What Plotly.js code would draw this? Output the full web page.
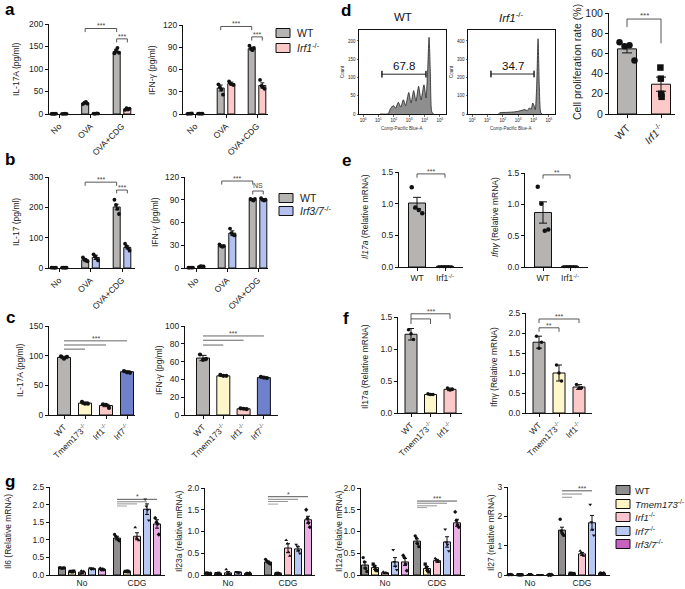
<!DOCTYPE html>
<html><head><meta charset="utf-8">
<script src="https://cdn.plot.ly/plotly-3.0.1.min.js"></script>
<style>html,body{margin:0;padding:0;background:#fff}#chart{width:685px;height:589px}</style>
</head><body><div id="chart"></div>
<script>
// ================= DATA =================
// Panel a / b : groups
const stimGroups = ['No', 'OVA', 'OVA+CDG'];
// a left: IL-17A
const a17_WT = [0.5, 24, 139];
const a17_WT_sem = [0.3, 1.5, 3];
const a17_WT_pts = [[0.3, 0.6, 0.2, 0.8], [22, 25, 27, 23], [135, 142, 147, 136]];
const a17_Irf1 = [0.5, 1, 11];
const a17_Irf1_sem = [0.3, 0.3, 1.5];
const a17_Irf1_pts = [[0.5, 0.3, 0.8, 0.4], [1, 0.5, 1.5, 1], [9, 13, 10, 12]];
// a right: IFN-g
const aIfn_WT = [0.5, 35, 88];
const aIfn_WT_sem = [0.3, 4, 2];
const aIfn_WT_pts = [[0.3, 0.6, 0.4, 0.7], [40, 36, 33, 26], [92, 88, 86, 89]];
const aIfn_Irf1 = [0.5, 41, 38.5];
const aIfn_Irf1_sem = [0.3, 2, 3.5];
const aIfn_Irf1_pts = [[0.4, 0.6, 0.5, 0.5], [44, 41, 40, 39], [46, 38, 36, 34]];
// b left: IL-17
const b17_WT = [1, 27, 201];
const b17_WT_sem = [0.5, 4, 9];
const b17_WT_pts = [[1, 1.5, 0.5, 1], [35, 28, 24, 22], [225, 208, 195, 178]];
const b17_Irf37 = [1, 35, 68];
const b17_Irf37_sem = [0.5, 7, 5];
const b17_Irf37_pts = [[1, 1.2, 0.8, 1], [45, 38, 32, 25], [80, 72, 65, 57]];
// b right: IFN-g
const bIfn_WT = [0.5, 29, 90];
const bIfn_WT_sem = [0.3, 1, 0.5];
const bIfn_WT_pts = [[0.4, 0.6, 0.5, 0.5], [31, 29, 28, 29], [91, 90, 89, 91]];
const bIfn_Irf37 = [2, 46, 90];
const bIfn_Irf37_sem = [0.5, 3, 1];
const bIfn_Irf37_pts = [[1.5, 2.5, 2, 2], [52, 46, 44, 43], [92, 90, 89, 90]];

// Panel c
const cGenotypes = ['WT', 'Tmem173<sup>-/-</sup>', 'Irf1<sup>-/-</sup>', 'Irf7<sup>-/-</sup>'];
const c17 = [97, 20, 16, 73];
const c17_sem = [2, 2, 2, 1.5];
const c17_pts = [[99, 95, 98], [22, 19, 19], [18, 17, 12], [74, 72, 71]];
const cIfn = [64, 44, 7, 42];
const cIfn_sem = [3, 0.5, 0.5, 0.5];
const cIfn_pts = [[68, 62, 63], [45, 44, 44], [7.5, 7, 6.5], [43, 42, 41.5]];

// Panel d: flow histograms (x in log10 units of Comp-Pacific Blue-A)
const hWT_log = [1.10, 1.64, 1.75, 1.86, 1.97, 2.12, 2.29, 2.45, 2.62, 2.77, 2.97, 3.12, 3.29, 3.44, 3.61, 3.77, 3.96, 4.09, 4.20, 4.29, 4.37, 4.46, 4.57];
const hWT_count = [0, 1, 12, 19, 23, 16, 32, 19, 39, 23, 59, 30, 64, 35, 76, 39, 80, 44, 121, 210, 121, 7, 0];
const hIrf1_log = [1.71, 1.82, 2.25, 2.68, 3.01, 3.23, 3.44, 3.59, 3.72, 3.85, 3.94, 4.03, 4.11, 4.20, 4.29, 4.37, 4.46, 4.55];
const hIrf1_count = [0, 7, 9, 11, 15, 20, 24, 18, 33, 27, 60, 46, 24, 152, 412, 152, 9, 0];
const gateWT = [1.23, 4.09];
const gateIrf1 = [1.23, 4.03];
const gateLabels = ['67.8', '34.7'];
// d right: proliferation
const dGenotypes = ['WT', '<i>Irf1</i><sup>-/-</sup>'];
const dProl = [64.5, 29.5];
const dProl_sem = [4, 7];
const dProl_pts = [[71, 67, 68, 53], [46, 35, 20, 17]];

// Panel e
const eGenotypes = ['WT', 'Irf1<sup>-/-</sup>'];
const e17 = [1.01, 0.01];
const e17_sem = [0.09, 0.003];
const e17_pts = [[1.26, 0.94, 0.90, 0.85], [0.01, 0.01, 0.01, 0.01]];
const eIfn = [0.87, 0.01];
const eIfn_sem = [0.17, 0.003];
const eIfn_pts = [[1.28, 1.01, 0.58, 0.60], [0.01, 0.01, 0.01, 0.01]];

// Panel f
const fGenotypes = ['WT', 'Tmem173<sup>-/-</sup>', 'Irf1<sup>-/-</sup>'];
const f17 = [1.23, 0.29, 0.37];
const f17_sem = [0.09, 0.01, 0.02];
const f17_pts = [[1.30, 1.24, 1.15], [0.30, 0.29, 0.29], [0.39, 0.36, 0.37]];
const fIfn = [1.77, 1.00, 0.65];
const fIfn_sem = [0.15, 0.2, 0.06];
const fIfn_pts = [[1.92, 1.62, 1.77], [1.20, 1.00, 0.80], [0.71, 0.62, 0.63]];

// Panel g (per genotype: [No, CDG])
const gGroups = ['No', 'CDG'];
const gGenotypes = ['WT', '<i>Tmem173</i><sup>-/-</sup>', '<i>Irf1</i><sup>-/-</sup>', '<i>Irf7</i><sup>-/-</sup>', '<i>Irf3/7</i><sup>-/-</sup>'];
const gIl6 = [[0.2, 1.05], [0.1, 0.1], [0.08, 1.1], [0.18, 1.87], [0.16, 1.45]];
const gIl6_sem = [[0.01, 0.05], [0.01, 0.01], [0.03, 0.1], [0.02, 0.15], [0.02, 0.12]];
const gIl6_pts = [
  [[0.21, 0.2, 0.19, 0.2, 0.2], [1.15, 1.1, 1.05, 1.0, 0.97]],
  [[0.1, 0.1, 0.09, 0.11], [0.1, 0.1, 0.11, 0.09]],
  [[0.03, 0.12, 0.05, 0.1], [1.35, 1.05, 1.02, 0.98]],
  [[0.2, 0.16, 0.18, 0.17], [2.15, 1.95, 1.85, 1.55]],
  [[0.18, 0.15, 0.16, 0.15], [1.62, 1.5, 1.45, 1.15]]];
const gIl23 = [[0.04, 0.30], [0.03, 0.03], [0.05, 0.62], [0.06, 0.60], [0.03, 1.27]];
const gIl23_sem = [[0.005, 0.02], [0.005, 0.005], [0.03, 0.1], [0.01, 0.05], [0.005, 0.08]];
const gIl23_pts = [
  [[0.04, 0.05, 0.04, 0.03, 0.04], [0.36, 0.32, 0.3, 0.27, 0.25]],
  [[0.03, 0.03, 0.04, 0.02], [0.03, 0.04, 0.03, 0.02]],
  [[0.13, 0.03, 0.02, 0.02], [0.8, 0.72, 0.52, 0.44]],
  [[0.07, 0.06, 0.05, 0.06], [0.7, 0.66, 0.56, 0.5]],
  [[0.03, 0.03, 0.02, 0.04], [1.5, 1.3, 1.2, 1.1]]];
const gIl12 = [[0.23, 0.78], [0.17, 0.15], [0.05, 0.33], [0.30, 0.76], [0.30, 1.20]];
const gIl12_sem = [[0.07, 0.05], [0.04, 0.04], [0.01, 0.03], [0.1, 0.12], [0.08, 0.08]];
const gIl12_pts = [
  [[0.4, 0.3, 0.15, 0.08], [0.9, 0.85, 0.72, 0.65]],
  [[0.25, 0.2, 0.12, 0.1], [0.25, 0.18, 0.1, 0.07]],
  [[0.07, 0.04, 0.05, 0.04], [0.38, 0.35, 0.3, 0.3]],
  [[0.58, 0.3, 0.2, 0.12], [1.05, 0.75, 0.7, 0.55]],
  [[0.45, 0.4, 0.25, 0.1], [1.45, 1.25, 1.15, 1.1]]];
const gIl27 = [[0.01, 1.53], [0.01, 0.05], [0.0, 0.72], [0.01, 1.78], [0.0, 0.05]];
const gIl27_sem = [[0.005, 0.1], [0.005, 0.01], [0.05, 0.05], [0.005, 0.25], [0.005, 0.01]];
const gIl27_pts = [
  [[0.01, 0.01, 0.02, 0.01], [1.9, 1.5, 1.4, 1.35]],
  [[0.01, 0.01, 0.01, 0.01], [0.06, 0.05, 0.04, 0.05]],
  [[0.0, 0.01, 0.0, 0.01], [0.82, 0.75, 0.68, 0.65]],
  [[0.01, 0.01, 0.01, 0.01], [2.4, 1.8, 1.55, 1.35]],
  [[0.0, 0.01, 0.0, 0.01], [0.06, 0.05, 0.04, 0.06]]];

// ================= STYLE / LAYOUT =================
const W = 685, H = 589;
const FONT = 'Liberation Sans, Arial, sans-serif';
const C_WT = '#b6b3b3', C_IRF1 = '#fcc9c9', C_IRF37 = '#b4c1ee';
const C_TMEM = '#fff7cc', C_IRF7 = '#6f80cc';
const G_COLORS = ['#8f8d8d', '#fff5c4', '#fcc4cf', '#b9c7f3', '#eab0e6'];
const G_LEGEND = ['#8f8d8d', '#fff5c4', '#fcc4cf', '#b9c7f3', '#c862c0'];
const G_SYMBOLS = ['circle', 'square', 'triangle-up', 'triangle-down', 'diamond'];

const traces = [], shapes = [], annotations = [];
const layout = {
  width: W, height: H, margin: {l: 0, r: 0, t: 0, b: 0},
  paper_bgcolor: '#fff', plot_bgcolor: 'rgba(0,0,0,0)',
  showlegend: false, barmode: 'overlay', font: {family: FONT, color: '#222'}
};
const panels = {};
const K = n => (n === 1 ? '' : String(n));

function addAxes(n, g) {
  const k = K(n);
  const base = {showline: true, linecolor: '#111', linewidth: 1, ticks: 'outside', ticklen: 3, tickwidth: 1,
    tickcolor: '#111', showgrid: false, zeroline: false, fixedrange: true,
    tickfont: {family: FONT, size: g.fs || 8.5, color: '#222'}};
  layout['xaxis' + k] = Object.assign({}, base, {domain: [g.box[0] / W, g.box[1] / W], range: g.xr, anchor: 'y' + k,
    tickmode: 'array', tickvals: g.xv, ticktext: g.xt, tickangle: g.xa || 0}, g.xextra || {});
  layout['yaxis' + k] = Object.assign({}, base, {domain: [1 - g.box[3] / H, 1 - g.box[2] / H], range: g.yr, anchor: 'x' + k,
    tick0: 0, dtick: g.dy, tickformat: g.fmt || ''}, g.yextra || {});
  panels[n] = g;
}
function toPaper(n, x, y) {
  const g = panels[n];
  const px = g.box[0] + (x - g.xr[0]) / (g.xr[1] - g.xr[0]) * (g.box[1] - g.box[0]);
  const py = g.box[3] - (y - g.yr[0]) / (g.yr[1] - g.yr[0]) * (g.box[3] - g.box[2]);
  return [px / W, 1 - py / H];
}
function geo(box, c0, unit) { return [(box[0] - c0) / unit, (box[1] - c0) / unit]; }

function groupedPanel(n, g, series, cfg) {
  g.xr = geo(g.box, cfg.c0, cfg.unit);
  addAxes(n, g);
  const k = K(n), S = series.length;
  series.forEach((s, si) => {
    const off = (si - (S - 1) / 2) * cfg.step / cfg.unit;
    traces.push({type: 'bar', x: s.mean.map((_, i) => i + off), y: s.mean, width: cfg.bw / cfg.unit,
      xaxis: 'x' + k, yaxis: 'y' + k, marker: {color: s.color, line: {color: '#111', width: 1}},
      error_y: {type: 'data', array: s.sem, visible: true, color: '#111', thickness: 1, width: cfg.cap},
      hoverinfo: 'skip'});
    const px = [], py = [];
    s.pts.forEach((arr, i) => arr.forEach((v, j) => { px.push(i + off + (j - (arr.length - 1) / 2) * cfg.jit / cfg.unit); py.push(v); }));
    traces.push({type: 'scatter', mode: 'markers', x: px, y: py, xaxis: 'x' + k, yaxis: 'y' + k, cliponaxis: false,
      marker: {color: '#111', size: cfg.ms, symbol: s.symbol || 'circle', line: {width: 0}}, hoverinfo: 'skip'});
  });
}
function singlePanel(n, g, colors, mean, sem, pts, cfg) {
  g.xr = geo(g.box, cfg.c0, cfg.unit);
  addAxes(n, g);
  const k = K(n);
  traces.push({type: 'bar', x: mean.map((_, i) => i), y: mean, width: cfg.bw / cfg.unit,
    xaxis: 'x' + k, yaxis: 'y' + k, marker: {color: colors, line: {color: '#111', width: 1}},
    error_y: {type: 'data', array: sem, visible: true, color: '#111', thickness: 1, width: cfg.cap}, hoverinfo: 'skip'});
  const px = [], py = [], sy = [];
  pts.forEach((arr, i) => {
    const jit = cfg.jitArr ? cfg.jitArr[i] : cfg.jit;
    arr.forEach((v, j) => { px.push(i + (j - (arr.length - 1) / 2) * jit / cfg.unit); py.push(v); sy.push((cfg.symbols || [])[i] || 'circle'); });
  });
  traces.push({type: 'scatter', mode: 'markers', x: px, y: py, xaxis: 'x' + k, yaxis: 'y' + k, cliponaxis: false,
    marker: {color: '#111', size: cfg.ms, symbol: sy, line: {width: 0}}, hoverinfo: 'skip'});
}
function bracket(n, x0, x1, y, l0, l1, label, lx, col, fs, ys) {
  const a = toPaper(n, x0, l0), b = toPaper(n, x0, y), c = toPaper(n, x1, y), d = toPaper(n, x1, l1);
  shapes.push({type: 'path', xref: 'paper', yref: 'paper', path: `M${a[0]},${a[1]} L${b[0]},${b[1]} L${c[0]},${c[1]} L${d[0]},${d[1]}`,
    line: {color: col || '#444', width: 0.9}});
  if (label) {
    const q = toPaper(n, lx !== undefined ? lx : (x0 + x1) / 2, y);
    annotations.push({xref: 'paper', yref: 'paper', x: q[0], y: q[1], text: label, showarrow: false, xanchor: 'center', yanchor: 'bottom',
      yshift: ys !== undefined ? ys : -3, font: {family: FONT, size: fs || 7, color: '#444'}});
  }
}
function text(x, y, t, o) {
  annotations.push(Object.assign({xref: 'paper', yref: 'paper', x: x / W, y: 1 - y / H, text: t, showarrow: false,
    xanchor: 'center', yanchor: 'middle', font: {family: FONT, size: 8.5, color: '#222'}}, o || {}));
}
function ytitle(x, y, t, fs) { text(x, y, t, {textangle: -90, font: {family: FONT, size: fs || 8.5, color: '#222'}}); }
function legendBox(x, ys, names, colors, fs, gap) {
  names.forEach((nm, i) => {
    shapes.push({type: 'rect', xref: 'paper', yref: 'paper', x0: x / W, x1: (x + 14) / W, y0: 1 - (ys[i] + 4.5) / H, y1: 1 - (ys[i] - 4.5) / H,
      fillcolor: colors[i], line: {color: '#111', width: 1}});
    text(x + (gap || 19), ys[i], nm, {xanchor: 'left', font: {family: FONT, size: fs || 10.5, color: '#222'}});
  });
}

// ---------- panel a ----------
const cfgAB = {step: 10.6, bw: 7, cap: 2, jit: 1.5, ms: 3.8};
groupedPanel(1, {box: [49, 135, 24, 114], yr: [0, 200], dy: 50, xv: [0, 1, 2], xt: stimGroups, xa: -45},
  [{color: C_WT, mean: a17_WT, sem: a17_WT_sem, pts: a17_WT_pts},
   {color: C_IRF1, mean: a17_Irf1, sem: a17_Irf1_sem, pts: a17_Irf1_pts}], Object.assign({c0: 59, unit: 31.5}, cfgAB));
groupedPanel(2, {box: [183, 268, 25, 114], yr: [0, 120], dy: 30, xv: [0, 1, 2], xt: stimGroups, xa: -45},
  [{color: C_WT, mean: aIfn_WT, sem: aIfn_WT_sem, pts: aIfn_WT_pts},
   {color: C_IRF1, mean: aIfn_Irf1, sem: aIfn_Irf1_sem, pts: aIfn_Irf1_pts}], Object.assign({c0: 195, unit: 31}, cfgAB));
bracket(1, 1 - 0.17, 2 - 0.17, 190, 182, 182, '***');
bracket(1, 2 - 0.17, 2 + 0.17, 167, 159, 159, '***');
bracket(2, 1 - 0.17, 2 - 0.17, 118, 113, 113, '***');
bracket(2, 2 - 0.17, 2 + 0.17, 104, 99, 99, '***');
ytitle(16, 69, 'IL-17A (pg/ml)');
ytitle(152, 70, 'IFN-γ (pg/ml)');
legendBox(276, [33, 48], ['WT', '<i>Irf1</i><sup>-/-</sup>'], [C_WT, C_IRF1]);

// ---------- panel b ----------
groupedPanel(3, {box: [49, 135, 177, 268], yr: [0, 300], dy: 100, xv: [0, 1, 2], xt: stimGroups, xa: -45},
  [{color: C_WT, mean: b17_WT, sem: b17_WT_sem, pts: b17_WT_pts},
   {color: C_IRF37, mean: b17_Irf37, sem: b17_Irf37_sem, pts: b17_Irf37_pts}], Object.assign({c0: 59, unit: 31.5}, cfgAB));
groupedPanel(4, {box: [185, 268, 177, 268], yr: [0, 120], dy: 30, xv: [0, 1, 2], xt: stimGroups, xa: -45},
  [{color: C_WT, mean: bIfn_WT, sem: bIfn_WT_sem, pts: bIfn_WT_pts},
   {color: C_IRF37, mean: bIfn_Irf37, sem: bIfn_Irf37_sem, pts: bIfn_Irf37_pts}], Object.assign({c0: 196, unit: 31}, cfgAB));
bracket(3, 1 - 0.17, 2 - 0.17, 283, 271, 271, '***');
bracket(3, 2 - 0.17, 2 + 0.17, 257, 246, 246, '***');
bracket(4, 1 - 0.17, 2 - 0.17, 114.7, 110, 110, '***');
bracket(4, 2 - 0.17, 2 + 0.17, 101.5, 97, 97, 'NS', undefined, undefined, 7, 0);
ytitle(16, 222, 'IL-17 (pg/ml)');
ytitle(155, 222, 'IFN-γ (pg/ml)');
legendBox(279, [198, 211], ['WT', '<i>Irf3/7</i><sup>-/-</sup>'], [C_WT, C_IRF37]);

// ---------- panel c ----------
const cColors = [C_WT, C_TMEM, C_IRF1, C_IRF7];
singlePanel(5, {box: [49, 135, 326, 415], yr: [0, 150], dy: 50, xv: [0, 1, 2, 3], xt: cGenotypes, xa: -45},
  cColors, c17, c17_sem, c17_pts, {c0: 64, unit: 21, bw: 13, cap: 3.5, jit: 3, ms: 4.2});
singlePanel(6, {box: [185, 278, 326, 415], yr: [0, 100], dy: 20, xv: [0, 1, 2, 3], xt: cGenotypes, xa: -45},
  cColors, cIfn, cIfn_sem, cIfn_pts, {c0: 203, unit: 20.3, bw: 13, cap: 3.5, jit: 3, ms: 4.2});
bracket(5, 0, 1, 111, 111, 111, '', undefined, '#555');
bracket(5, 0, 2, 118, 118, 118, '', undefined, '#555');
bracket(5, 0, 3, 125, 125, 125, '***', 1.5, '#555');
bracket(6, 0, 1, 78.6, 78.6, 78.6, '', undefined, '#555');
bracket(6, 0, 2, 84, 84, 84, '', undefined, '#555');
bracket(6, 0, 3, 88.8, 88.8, 88.8, '***', 1.5, '#555');
ytitle(20, 370, 'IL-17A (pg/ml)');
ytitle(159, 370, 'IFN-γ (pg/ml)');

// ---------- panel d ----------
function histPanel(n, box, yr, yv, xs, ys) {
  const k = K(n);
  addAxes(n, {box: box, xr: [-0.26, 5.39], yr: yr, fs: 4.5, xv: [0, 1, 2, 3, 4, 5],
    xt: ['10<sup>0</sup>', '10<sup>1</sup>', '10<sup>2</sup>', '10<sup>3</sup>', '10<sup>4</sup>', '10<sup>5</sup>'],
    xextra: {mirror: true, ticklen: 1.5, tickwidth: 0.6},
    yextra: {mirror: true, ticklen: 1.5, tickwidth: 0.6, tickmode: 'array', tickvals: yv}});
  traces.push({type: 'scatter', mode: 'lines', x: xs, y: ys, xaxis: 'x' + k, yaxis: 'y' + k, fill: 'tozeroy',
    fillcolor: '#8e8e8e', line: {color: '#222', width: 0.8, shape: 'spline', smoothing: 0.6}, hoverinfo: 'skip'});
}
histPanel(7, [359, 446, 30, 114], [0, 230], [0, 50, 100, 150, 200], hWT_log, hWT_count);
histPanel(8, [468, 555, 30, 114], [0, 460], [0, 100, 200, 300, 400], hIrf1_log, hIrf1_count);
function gate(n, g, y, cap, label) {
  bracket(n, g[0], g[1], y, y, y, '', undefined, '#111');
  bracket(n, g[0], g[0], y + cap, y - cap, y - cap, '', undefined, '#111');
  bracket(n, g[1], g[1], y + cap, y - cap, y - cap, '', undefined, '#111');
  const q = toPaper(n, (g[0] + g[1]) / 2, y);
  annotations.push({xref: 'paper', yref: 'paper', x: q[0], y: q[1], text: label, showarrow: false, xanchor: 'center', yanchor: 'bottom',
    yshift: 0, font: {family: FONT, size: 11.5, color: '#111'}});
}
gate(7, gateWT, 109, 9, gateLabels[0]);
gate(8, gateIrf1, 219, 18, gateLabels[1]);
text(403, 17, 'WT', {font: {family: FONT, size: 11.5, color: '#111'}});
text(512, 17, '<i>Irf1</i><sup>-/-</sup>', {font: {family: FONT, size: 11.5, color: '#111'}});
ytitle(342, 72, 'Count', 4.5);
ytitle(451, 72, 'Count', 4.5);
text(402, 129, 'Comp-Pacific Blue-A', {font: {family: FONT, size: 4.5, color: '#333'}});
text(511, 129, 'Comp-Pacific Blue-A', {font: {family: FONT, size: 4.5, color: '#333'}});

singlePanel(9, {box: [609, 675, 13, 114], yr: [0, 100], dy: 20, fs: 10.5, xv: [0, 1], xt: dGenotypes, xa: -45},
  [C_WT, C_IRF1], dProl, dProl_sem, dProl_pts,
  {c0: 627, unit: 34, bw: 19, cap: 5, jitArr: [5, 0.4], ms: 6.5, symbols: ['circle', 'square']});
bracket(9, 0, 1, 94, 86, 70, '***', undefined, '#444', 8);
ytitle(577, 62, 'Cell proliferation rate (%)', 10.5);

// ---------- panel e ----------
singlePanel(10, {box: [399, 463, 172, 267], yr: [0, 1.5], dy: 0.5, fmt: '.1f', xv: [0, 1], xt: eGenotypes},
  [C_WT, C_IRF1], e17, e17_sem, e17_pts, {c0: 417, unit: 28, bw: 17, cap: 4, jit: 3.5, ms: 4.5, symbols: ['circle', 'triangle-down']});
singlePanel(11, {box: [525, 588, 173, 267], yr: [0, 1.5], dy: 0.5, fmt: '.1f', xv: [0, 1], xt: eGenotypes},
  [C_WT, C_IRF1], eIfn, eIfn_sem, eIfn_pts, {c0: 543, unit: 27, bw: 17, cap: 4, jit: 3.5, ms: 4.5, symbols: ['circle', 'triangle-down']});
bracket(10, 0, 1, 1.47, 1.41, 1.41, '***');
bracket(11, 0, 1, 1.47, 1.41, 1.41, '**');
ytitle(365, 217, '<i>Il17a</i> (Relative mRNA)');
ytitle(495, 217, '<i>Ifnγ</i> (Relative mRNA)');

// ---------- panel f ----------
const fColors = [C_WT, C_TMEM, C_IRF1];
singlePanel(12, {box: [398, 462, 317, 413], yr: [0, 1.5], dy: 0.5, fmt: '.1f', xv: [0, 1, 2], xt: fGenotypes, xa: -45},
  fColors, f17, f17_sem, f17_pts, {c0: 411, unit: 19.5, bw: 12, cap: 3, jit: 2.5, ms: 3.5});
singlePanel(13, {box: [526, 592, 313, 413], yr: [0, 2.5], dy: 0.5, fmt: '.1f', xv: [0, 1, 2], xt: fGenotypes, xa: -45},
  fColors, fIfn, fIfn_sem, fIfn_pts, {c0: 539, unit: 20, bw: 12, cap: 3, jit: 2.5, ms: 3.5});
bracket(12, 0, 1, 1.47, 1.39, 1.39, '');
bracket(12, 0, 2, 1.55, 1.47, 1.47, '***', 1);
bracket(13, 0, 1, 2.13, 2.03, 2.03, '**');
bracket(13, 0, 2, 2.35, 2.25, 2.25, '***', 1);
ytitle(365, 367, 'Il17a (Relative mRNA)');
ytitle(494, 367, 'Ifnγ (Relative mRNA)');

// ---------- panel g ----------
const cfgG = {step: 10, bw: 7, cap: 2, jit: 1.2, ms: 3.3};
function gPanel(n, box, yr, dy, fmt, means, sems, pts, c0, unit) {
  groupedPanel(n, {box: box, yr: yr, dy: dy, fmt: fmt, xv: [0, 1], xt: gGroups, xextra: {ticks: '', ticklen: 0}},
    means.map((m, i) => ({color: G_COLORS[i], mean: m, sem: sems[i], pts: pts[i], symbol: G_SYMBOLS[i]})),
    Object.assign({c0: c0, unit: unit}, cfgG));
}
function gLines(n, unit, ys, targets, label) {
  const x0 = 1 - 2 * cfgG.step / unit;
  const cols = ['#999', '#888', '#777', '#444'];
  targets.forEach((t, i) => bracket(n, x0, 1 + (t - 2) * cfgG.step / unit, ys[i], ys[i], ys[i], '', undefined, cols[i + 4 - targets.length]));
  const top = ys[ys.length - 1];
  const q = toPaper(n, 1, top);
  annotations.push({xref: 'paper', yref: 'paper', x: q[0], y: q[1], text: label, showarrow: false, xanchor: 'center', yanchor: 'bottom',
    yshift: -3, font: {family: FONT, size: 7, color: '#444'}});
}
gPanel(14, [50, 165, 487, 575], [0, 2.5], 0.5, '.1f', gIl6, gIl6_sem, gIl6_pts, 82, 55);
gPanel(15, [205, 315, 488, 575], [0, 2.0], 0.5, '.1f', gIl23, gIl23_sem, gIl23_pts, 228, 60);
gPanel(16, [361, 465, 488, 575], [0, 2.0], 0.5, '.1f', gIl12, gIl12_sem, gIl12_pts, 385, 52);
gPanel(17, [508, 610, 487, 575], [0, 3], 1, '', gIl27, gIl27_sem, gIl27_pts, 530, 52);
gLines(14, 55, [1.96, 2.02, 2.08, 2.15], [1, 2, 3, 4], '*');
gLines(15, 60, [1.63, 1.69, 1.74, 1.80], [1, 2, 3, 4], '*');
gLines(16, 52, [1.55, 1.59, 1.65, 1.70], [1, 2, 3, 4], '***');
gLines(17, 52, [2.65, 2.76, 2.87], [1, 2, 3], '***');
ytitle(8, 532, 'Il6 (Relative mRNA)');
ytitle(179, 532, 'Il23a (relative mRNA)');
ytitle(339, 532, 'Il12a (relative mRNA)');
ytitle(491, 532, 'Il27 (relative mRNA)');
legendBox(616, [490, 504, 517, 531, 544], gGenotypes, G_LEGEND, 9.5, 17);

// ---------- panel letters ----------
[['a', 10, 9], ['b', 10, 159], ['c', 10, 317], ['d', 346, 11], ['e', 346, 160], ['f', 346, 318], ['g', 10, 482]].forEach(p =>
  text(p[1], p[2], '<b>' + p[0] + '</b>', {font: {family: FONT, size: 17, color: '#000'}}));

layout.shapes = shapes;
layout.annotations = annotations;
Plotly.newPlot('chart', traces, layout, {staticPlot: true, displayModeBar: false});
</script></body></html>
